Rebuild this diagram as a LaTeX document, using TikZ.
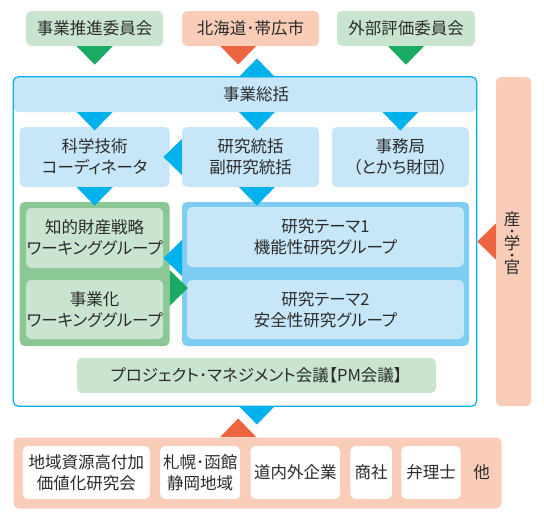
\documentclass[tikz,border=0pt]{standalone}
\usepackage{fontspec}
\setmainfont{Noto Sans CJK JP}[RawFeature=+palt]
\usepackage{xcolor}
\usepackage{tikz}
\definecolor{lgreen}{HTML}{CAE5CF}
\definecolor{mgreen}{HTML}{8CC895}
\definecolor{dgreen}{HTML}{1AAA63}
\definecolor{lblue}{HTML}{C7E7F9}
\definecolor{mblue}{HTML}{80CDF3}
\definecolor{dblue}{HTML}{00B1EC}
\definecolor{salmon}{HTML}{F9CDB8}
\definecolor{dorange}{HTML}{EC6440}
\definecolor{txtgray}{HTML}{2B2B2B}

\tikzset{
  box/.style={rounded corners=5pt, inner sep=0pt, align=center, text=txtgray},
  gbox/.style={box, fill=lgreen},
  bbox/.style={box, fill=lblue},
  sbox/.style={box, fill=salmon},
  wbox/.style={box, fill=white},
  vchar/.style={inner sep=0pt, text=txtgray, text height=12.5pt, text depth=0pt},
  vdot/.style={inner sep=0pt, text=txtgray, font=\fontsize{13}{13}\selectfont, text height=2pt, text depth=0pt}
}
% triangle marker: colour, base point, rotation (0 = pointing down)
\newcommand{\marker}[3]{%
  \fill[#1, shift={#2}, rotate=#3] (-18,0) -- (18,0) -- (0,18.5) -- cycle;}

\begin{document}
\begin{tikzpicture}[x=1pt, y=-1pt, font=\fontsize{16.5}{21}\selectfont]
  \useasboundingbox (0,0) rectangle (544,520);
  % top row
  \node[gbox, minimum width=137, minimum height=35] (promo) at (94.7,28.5) {事業推進委員会};
  \node[sbox, minimum width=137, minimum height=35] (city) at (250.6,28.5) {北海道･帯広市};
  \node[gbox, minimum width=138, minimum height=35] (eval) at (406,28.5) {外部評価委員会};

  % main frame
  \node[box, fill=white, minimum width=463, minimum height=329] (frame) at (245,241.5) {};
  \node[bbox, minimum width=463, minimum height=35] (sou) at (245,94.5) {};
  \node[text=txtgray, inner sep=0pt] (soulabel) at (256,94.5) {事業総括};

  \node[bbox, minimum width=150, minimum height=60] (coord) at (94.7,157) {科学技術\\コーディネータ};
  \node[bbox, minimum width=137, minimum height=60] (chief) at (250.6,157) {研究統括\\副研究統括};
  \node[bbox, minimum width=137, minimum height=60] (office) at (400.4,157) {事務局\\（とかち財団）};

  % working groups
  \node[box, fill=mgreen, minimum width=150, minimum height=144] (wg) at (94.7,274) {};
  \node[gbox, minimum width=137, minimum height=60] (ip) at (94.7,238) {知的財産戦略\\ワーキンググループ};
  \node[gbox, minimum width=137, minimum height=59] (biz) at (94.7,309.5) {事業化\\ワーキンググループ};

  % research themes
  \node[box, fill=mblue, minimum width=287, minimum height=144] (rg) at (325.5,274) {};
  \node[bbox, minimum width=276.6, minimum height=60] (th1) at (325.5,237) {研究テーマ1\\機能性研究グループ};
  \node[bbox, minimum width=276.6, minimum height=59] (th2) at (325.5,309.5) {研究テーマ2\\安全性研究グループ};

  \node[gbox, minimum width=359, minimum height=35] (pm) at (256.4,375.5) {プロジェクト･マネジメント会議【PM会議】};
  \draw[dblue, line width=1.2pt, rounded corners=5pt] (frame.north west) rectangle (frame.south east);

  % industry, academia, government
  \node[sbox, minimum width=35.4, minimum height=329] (sangaku) at (513.7,241.5) {};
  \node[vchar] (san) at (512,219) {産};
  \node[vdot] (dot1) at (512,231) {\raisebox{-4pt}{・}};
  \node[vchar] (gaku) at (512,243) {学};
  \node[vdot] (dot2) at (512,255) {\raisebox{-4pt}{・}};
  \node[vchar] (kan) at (512,267) {官};

  % partners
  \node[sbox, minimum width=488, minimum height=71] (partners) at (257.5,473) {};
  \node[wbox, minimum width=127, minimum height=53] (p1) at (86.3,472.5) {地域資源高付加\\価値化研究会};
  \node[wbox, minimum width=80, minimum height=53] (p2) at (200.2,472.5) {札幌･函館\\静岡地域};
  \node[wbox, minimum width=89.4, minimum height=53] (p3) at (295.3,472.5) {道内外企業};
  \node[wbox, minimum width=41.5, minimum height=53] (p4) at (371.2,472.5) {商社};
  \node[wbox, minimum width=59.3, minimum height=53] (p5) at (431,472.5) {弁理士};
  \node[text=txtgray, inner sep=0pt] (etc) at (481.5,472.5) {他};

  % markers
  \marker{dgreen}{(promo.south)}{0}
  \marker{dorange}{(238.2,46)}{0}
  \marker{dgreen}{(eval.south)}{0}
  \marker{dblue}{(256.9,77)}{180}
  \foreach \mx in {94.7,256.9,400.4} {
    \marker{dblue}{(\mx,112)}{0}
  }
  \marker{dblue}{(chief.west)}{-90}
  \marker{dblue}{(coord.south)}{0}
  \marker{dblue}{(256.9,187)}{0}
  \marker{dblue}{(182,258)}{-90}
  \marker{dgreen}{(169.5,288)}{90}
  \marker{dorange}{(sangaku.west)}{-90}
  \marker{dblue}{(256.9,406)}{0}
  \marker{dorange}{(238.2,437)}{180}
\end{tikzpicture}
\end{document}
